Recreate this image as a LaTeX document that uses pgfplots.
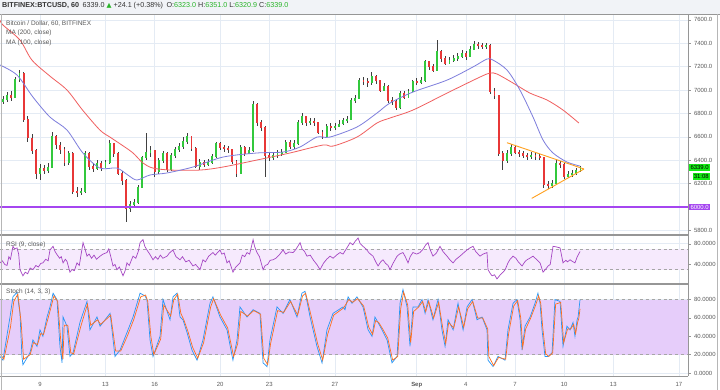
\documentclass[border=0pt]{standalone}
\usepackage{fontspec}
\setmainfont{Liberation Sans}
\newfontfamily\dejavu{DejaVu Sans}
\usepackage{pgfplots}
\pgfplotsset{compat=1.18}
\usepackage{pgfplotstable}
\definecolor{gridc}{RGB}{228,235,244}
\definecolor{candg}{RGB}{50,200,60}
\definecolor{candr}{RGB}{232,55,55}
\definecolor{ma2}{RGB}{240,95,95}
\definecolor{ma1}{RGB}{125,125,220}
\definecolor{lvl}{RGB}{165,70,240}
\definecolor{limeg}{RGB}{20,235,20}
\definecolor{wedge}{RGB}{255,160,30}
\definecolor{rsic}{RGB}{165,70,195}
\definecolor{rsiband}{RGB}{246,234,253}
\definecolor{stband}{RGB}{230,205,250}
\definecolor{stk}{RGB}{40,150,245}
\definecolor{std}{RGB}{255,110,30}
\definecolor{txt}{RGB}{90,90,90}
\definecolor{hdr}{RGB}{241,243,247}
\definecolor{sep}{RGB}{150,150,150}
\definecolor{hgreen}{RGB}{40,180,40}
\pgfplotsset{
 panel/.style={scale only axis, width=688bp, xmin=6.56, xmax=48.56,
   axis x line*=bottom, axis y line*=right, axis line style={draw=sep},
   xtick={9,13,16,20,23,27,32,35,38,41,44,48}, xticklabels={},
   grid=major, major grid style={draw=gridc, line width=0.5bp},
   major tick length=2.5bp, tick align=outside,
   tick style={draw=sep, line width=0.4bp},
   x tick style={draw=none},
   yticklabel style={font=\fontsize{6}{7}\selectfont, text=txt},
   /pgf/number format/assume math mode=true,
   /pgf/number format/fixed,
   /pgf/number format/fixed zerofill,
   /pgf/number format/1000 sep={}},
 candle/.style={only marks, mark=text, text mark={}, forget plot,
   error bars/.cd, y dir=both, y explicit, error mark=none},
}
\begin{document}
\pgfplotstableread{
t o h l c
6.75 6900 6950 6880 6920
7.00 6920 6980 6900 6950
7.25 6950 6990 6910 6940
7.50 6940 7110 6930 7090
7.75 7090 7170 7070 7140
8.00 7140 7150 6730 6750
8.25 6750 6780 6560 6590
8.50 6590 6620 6450 6480
8.75 6480 6500 6240 6290
9.00 6290 6370 6230 6330
9.25 6330 6360 6280 6310
9.50 6310 6380 6290 6340
9.75 6340 6640 6330 6600
10.00 6600 6620 6500 6530
10.25 6530 6560 6450 6490
10.50 6490 6510 6350 6380
10.75 6380 6480 6360 6460
11.00 6460 6470 6110 6130
11.25 6130 6170 6090 6120
11.50 6120 6160 6100 6130
11.75 6130 6480 6120 6460
12.00 6460 6470 6320 6350
12.25 6350 6380 6300 6330
12.50 6330 6400 6320 6370
12.75 6370 6390 6310 6340
13.00 6340 6400 6330 6380
13.25 6380 6570 6370 6540
13.50 6540 6550 6430 6460
13.75 6460 6470 6270 6290
14.00 6290 6310 6190 6230
14.25 6230 6240 5872 5990
14.50 5990 6050 5960 6020
14.75 6020 6070 6000 6040
15.00 6040 6190 6030 6170
15.25 6170 6440 6160 6420
15.50 6420 6632 6400 6470
15.75 6470 6520 6430 6480
16.00 6480 6490 6260 6300
16.25 6300 6420 6280 6400
16.50 6400 6480 6380 6460
16.75 6460 6470 6300 6320
17.00 6320 6460 6310 6440
17.25 6440 6510 6420 6490
17.50 6490 6550 6470 6520
17.75 6520 6600 6500 6560
18.00 6560 6630 6540 6600
18.25 6600 6610 6480 6500
18.50 6500 6510 6330 6350
18.75 6350 6410 6320 6380
19.00 6380 6400 6340 6360
19.25 6360 6410 6350 6380
19.50 6380 6450 6370 6430
19.75 6430 6560 6420 6540
20.00 6540 6560 6490 6510
20.25 6510 6530 6470 6500
20.50 6500 6520 6460 6490
20.75 6490 6500 6370 6390
21.00 6390 6400 6260 6290
21.25 6290 6530 6280 6510
21.50 6510 6520 6440 6460
21.75 6460 6510 6450 6480
22.00 6480 6910 6470 6880
22.25 6880 6890 6690 6720
22.50 6720 6740 6650 6680
22.75 6680 6690 6256 6440
23.00 6440 6470 6390 6420
23.25 6420 6470 6400 6440
23.50 6440 6490 6420 6460
23.75 6460 6500 6440 6470
24.00 6470 6570 6460 6550
24.25 6550 6570 6500 6520
24.50 6520 6570 6500 6540
24.75 6540 6740 6530 6720
25.00 6720 6800 6700 6770
25.25 6770 6780 6690 6720
25.50 6720 6760 6700 6730
25.75 6730 6760 6690 6720
26.00 6720 6730 6620 6640
26.25 6640 6660 6580 6600
26.50 6600 6710 6590 6690
26.75 6690 6720 6650 6680
27.00 6680 6720 6660 6690
27.25 6690 6740 6680 6710
27.50 6710 6760 6700 6740
27.75 6740 6780 6720 6750
28.00 6750 6930 6740 6910
28.25 6910 6960 6890 6930
28.50 6930 7100 6920 7080
28.75 7080 7110 7040 7070
29.00 7070 7100 7030 7060
29.25 7060 7150 7040 7120
29.50 7120 7130 7050 7080
29.75 7080 7090 6980 7000
30.00 7000 7060 6990 7030
30.25 7030 7040 6890 6910
30.50 6910 6940 6870 6900
30.75 6900 6920 6830 6850
31.00 6850 6990 6840 6970
31.25 6970 6990 6920 6940
31.50 6940 7010 6930 6990
31.75 6990 7090 6980 7070
32.00 7070 7100 7040 7060
32.25 7060 7110 7050 7080
32.50 7080 7260 7070 7240
32.75 7240 7250 7170 7200
33.00 7200 7220 7150 7170
33.25 7170 7427 7160 7330
33.50 7330 7340 7240 7270
33.75 7270 7290 7210 7230
34.00 7230 7280 7220 7250
34.25 7250 7300 7240 7270
34.50 7270 7320 7250 7290
34.75 7290 7340 7270 7310
35.00 7310 7330 7260 7290
35.25 7290 7380 7280 7350
35.50 7350 7420 7340 7390
35.75 7390 7410 7350 7380
36.00 7380 7400 7350 7370
36.25 7370 7400 7350 7380
36.50 7380 7390 6970 6990
36.75 6990 7020 6920 6950
37.00 6950 6960 6440 6460
37.25 6460 6480 6315 6400
37.50 6400 6490 6380 6460
37.75 6460 6540 6440 6510
38.00 6510 6530 6450 6470
38.25 6470 6490 6430 6460
38.50 6460 6480 6420 6440
38.75 6440 6460 6400 6430
39.00 6430 6470 6410 6440
39.25 6440 6460 6400 6430
39.50 6430 6450 6400 6420
39.75 6420 6430 6160 6190
40.00 6190 6220 6150 6180
40.25 6180 6230 6160 6200
40.50 6200 6400 6190 6370
40.75 6370 6390 6330 6360
41.00 6360 6380 6240 6260
41.25 6260 6310 6250 6280
41.50 6280 6320 6260 6290
41.75 6290 6330 6270 6310
42.00 6310 6351 6300 6339
}\price
\begin{tikzpicture}
\useasboundingbox (0bp,0bp) rectangle (720bp,390bp);
\fill[white] (0bp,0bp) rectangle (720bp,390bp);
\fill[hdr] (0bp,376bp) rectangle (720bp,390bp);
% ---------------- main price panel
\begin{axis}[panel, at={(0bp,155bp)}, anchor=south west, height=221bp,
  ymin=5761, ymax=7650, ytick={5800,6200,6400,...,7600},
  /pgf/number format/precision=1]
\addplot[candle, error bar style={draw=black!75, line width=0.5bp}]
  table[x=t, y expr={0.5*(\thisrow{h}+\thisrow{l})},
        y error expr={0.5*(\thisrow{h}-\thisrow{l})}] {\price};
\addplot[restrict expr to domain={\thisrow{c}-\thisrow{o}}{0:100000},
  candle, error bar style={draw=candg, line width=1.9bp}]
  table[x=t, y expr={0.5*(\thisrow{o}+\thisrow{c})},
        y error expr={0.5*abs(\thisrow{c}-\thisrow{o})+4}] {\price};
\addplot[restrict expr to domain={\thisrow{o}-\thisrow{c}}{0.001:100000},
  candle, error bar style={draw=candr, line width=1.9bp}]
  table[x=t, y expr={0.5*(\thisrow{o}+\thisrow{c})},
        y error expr={0.5*abs(\thisrow{c}-\thisrow{o})+4}] {\price};
% MA 200
\addplot[ma2, line width=0.8bp, smooth, tension=0.5] coordinates {
(6.56,7598) (6.74,7556) (7.78,7427) (8.51,7256) (9.6,7120) (10.65,7000)
(11.6,6829) (12.66,6658) (13.27,6598) (14.0,6530) (14.68,6462) (15.29,6376)
(15.90,6333) (17.0,6316) (18.77,6316) (20.17,6342) (22.25,6402) (24.26,6462)
(26.28,6530) (26.89,6521) (28.35,6598) (29.57,6718) (30.37,6761) (31.77,6829)
(33.85,6974) (35.86,7111) (36.47,7145) (36.9,7137) (37.88,7060) (38.91,6974)
(39.95,6915) (40.93,6829) (41.9,6718)};
% MA 100
\addplot[ma1, line width=0.8bp, smooth, tension=0.5] coordinates {
(6.56,7214) (7.6,7128) (8.57,6940) (9.61,6769) (10.65,6658) (11.62,6462)
(12.66,6333) (13.70,6333) (14.4,6270) (14.92,6231) (15.72,6274) (16.75,6291)
(18.34,6342) (20.17,6427) (22.25,6462) (23.84,6470) (24.87,6513) (25.91,6598)
(26.70,6598) (28.35,6684) (29.57,6803) (30.37,6889) (31.77,6983) (33.85,7085)
(35.43,7197) (36.29,7265) (36.66,7256) (37.51,7171) (38.30,7000) (39.10,6769)
(39.71,6573) (40.32,6462) (41.17,6385) (41.97,6350)};
% support line
\addplot[lvl, line width=1.5bp] coordinates {(6.56,6000) (48.56,6000)};
% triangle
\addplot[wedge, line width=0.9bp] coordinates {(37.51,6550) (42.21,6325)};
\addplot[wedge, line width=0.9bp] coordinates {(39.02,6074) (42.21,6325)};
\coordinate (p6000) at (axis cs:48.56,6000);
\coordinate (plast) at (axis cs:48.56,6339);
\end{axis}
% ---------------- RSI panel
\begin{axis}[panel, at={(0bp,106bp)}, anchor=south west, height=49bp,
  ymin=2.2, ymax=96.9, ytick={40,80},
  /pgf/number format/precision=4]
\fill[rsiband] (axis cs:6.56,30) rectangle (axis cs:48.56,70);
\draw[gray!70, dashed, line width=0.5bp] (axis cs:6.56,30) -- (axis cs:48.56,30);
\draw[gray!70, dashed, line width=0.5bp] (axis cs:6.56,70) -- (axis cs:48.56,70);
\addplot[rsic, line width=0.7bp] coordinates {
(6.56,43) (6.7,47) (6.85,40) (6.99,38) (7.1,55) (7.2,50) (7.35,75) (7.45,70)
(7.6,72) (7.7,60) (7.78,30) (7.96,18) (8.1,25) (8.25,22) (8.4,33) (8.57,30)
(8.75,38) (8.9,35) (9.05,42) (9.18,43) (9.35,50) (9.5,47) (9.61,68) (9.8,75)
(9.92,65) (10.04,59) (10.2,52) (10.3,55) (10.41,43) (10.55,50) (10.65,46)
(10.83,25) (10.95,30) (11.1,28) (11.26,43) (11.4,38) (11.63,82) (11.75,70)
(11.87,56) (12.0,60) (12.15,52) (12.3,58) (12.45,50) (12.67,56) (12.85,60)
(13.09,63) (13.2,70) (13.3,58) (13.46,37) (13.58,40) (13.70,30) (13.85,35)
(14.07,18) (14.2,28) (14.31,43) (14.45,38) (14.68,56) (14.85,52) (15.0,65)
(15.11,82) (15.29,88) (15.4,75) (15.53,68) (15.7,60) (15.9,49) (16.05,55)
(16.2,50) (16.35,58) (16.5,52) (16.76,56) (16.9,62) (17.12,68) (17.3,55)
(17.55,49) (17.7,55) (17.9,45) (18.1,48) (18.34,37) (18.5,40) (18.77,30)
(18.95,49) (19.1,45) (19.3,56) (19.56,63) (19.7,58) (19.99,68) (20.1,60)
(20.25,62) (20.42,43) (20.55,47) (20.78,25) (20.95,35) (21.21,43) (21.35,58)
(21.5,55) (21.64,63) (21.8,60) (22.01,88) (22.1,75) (22.25,63) (22.4,55)
(22.62,30) (22.75,38) (22.9,40) (23.05,48) (23.23,49) (23.4,52) (23.6,58)
(23.84,68) (24.0,60) (24.2,64) (24.45,63) (24.6,68) (24.88,82) (25.0,70)
(25.15,65) (25.3,56) (25.5,58) (25.7,48) (25.9,40) (26.1,30) (26.3,42)
(26.5,50) (26.71,56) (26.9,52) (27.1,58) (27.32,63) (27.5,60) (27.7,70)
(27.93,82) (28.1,78) (28.25,85) (28.42,91) (28.55,80) (28.72,75) (28.9,70)
(29.1,62) (29.33,56) (29.5,45) (29.64,37) (29.8,45) (29.94,49) (30.1,42)
(30.25,38) (30.37,30) (30.55,42) (30.8,56) (30.95,60) (31.16,63) (31.3,55)
(31.47,43) (31.6,55) (31.77,63) (32.0,60) (32.2,63) (32.4,70) (32.55,78)
(32.69,82) (32.8,70) (32.99,56) (33.2,62) (33.42,75) (33.6,65) (33.85,56)
(34.0,50) (34.22,43) (34.4,50) (34.64,56) (34.85,62) (35.07,68) (35.25,72)
(35.44,75) (35.6,65) (35.86,56) (36.05,60) (36.29,63) (36.35,30) (36.5,22)
(36.6,18) (36.75,20) (36.9,12) (37.1,20) (37.27,25) (37.4,30) (37.57,43)
(37.7,50) (37.88,56) (38.05,52) (38.2,45) (38.43,37) (38.6,45) (38.73,49)
(38.9,52) (39.10,56) (39.3,50) (39.53,43) (39.71,25) (39.85,30) (40.02,37)
(40.15,40) (40.32,75) (40.5,74) (40.75,72) (40.93,43) (41.1,48) (41.2,45)
(41.36,49) (41.5,46) (41.66,43) (41.8,55) (41.97,65)};
\end{axis}
% ---------------- Stochastic panel
\begin{axis}[panel, at={(0bp,14bp)}, anchor=south west, height=92bp,
  ymin=-3.3, ymax=97, ytick={0,20,...,80},
  /pgf/number format/precision=4,
  xticklabels={9,13,16,20,23,27,\textbf{Sep},4,7,10,13,17},
  xticklabel style={font=\fontsize{6}{7}\selectfont, text=txt}]
\fill[stband] (axis cs:6.56,20) rectangle (axis cs:48.56,80);
\draw[gray!70, dashed, line width=0.5bp] (axis cs:6.56,20) -- (axis cs:48.56,20);
\draw[gray!70, dashed, line width=0.5bp] (axis cs:6.56,80) -- (axis cs:48.56,80);
\addplot[stk, line width=0.7bp] coordinates {
(6.56,18) (6.74,14) (7.17,61) (7.35,83) (7.60,88) (7.78,65) (7.90,18) (7.96,9)
(8.39,22) (8.57,36) (8.82,29) (9.00,47) (9.18,40) (9.43,61) (9.61,72) (9.80,87)
(10.04,80) (10.22,29) (10.35,11) (10.41,61) (10.65,51) (10.83,18) (11.02,22)
(11.44,55) (11.87,78) (12.05,47) (12.48,61) (12.67,51) (13.28,65) (13.58,18)
(13.89,25) (14.31,44) (14.68,61) (15.11,87) (15.41,84) (15.53,80) (15.72,36)
(15.90,18) (16.33,40) (16.51,80) (16.94,58) (17.12,83) (17.37,87) (17.55,61)
(17.73,58) (17.98,44) (18.28,25) (18.59,14) (18.95,36) (19.38,76) (19.56,83)
(19.99,61) (20.42,47) (20.78,14) (21.03,36) (21.21,72) (21.64,61) (22.01,69)
(22.43,65) (22.62,11) (22.86,7) (23.04,36) (23.47,72) (23.84,65) (24.26,80)
(24.69,61) (24.99,87) (25.18,89) (25.49,61) (25.91,29) (26.22,11) (26.52,47)
(26.89,65) (27.50,72) (27.62,69) (27.81,83) (28.05,76) (28.35,83) (28.72,72)
(29.03,47) (29.27,40) (29.45,61) (29.64,55) (29.88,47) (30.19,36) (30.49,11)
(30.80,18) (30.98,76) (31.16,91) (31.41,72) (31.59,29) (31.77,72) (32.08,72)
(32.32,80) (32.51,65) (32.69,80) (32.99,58) (33.30,80) (33.54,47) (33.73,29)
(33.91,58) (34.22,47) (34.52,76) (34.83,47) (35.07,72) (35.38,80) (35.68,58)
(35.99,61) (36.29,47) (36.35,14) (36.66,7) (36.96,18) (37.39,14) (37.57,47)
(37.88,76) (38.12,80) (38.31,58) (38.43,25) (38.61,51) (38.92,61) (39.22,76)
(39.40,87) (39.53,76) (39.65,47) (39.83,18) (40.02,18) (40.26,22) (40.44,80)
(40.75,78) (40.93,29) (41.17,51) (41.36,47) (41.54,55) (41.66,40) (41.79,58)
(41.85,61) (41.97,80)};
\addplot[std, line width=0.7bp] coordinates {
(6.6,20) (6.8,15) (7.2,50) (7.4,78) (7.65,86) (7.85,55) (8.0,15) (8.4,20)
(8.6,33) (8.85,31) (9.05,43) (9.22,42) (9.47,58) (9.65,70) (9.85,84) (10.08,78)
(10.27,35) (10.4,15) (10.48,52) (10.7,52) (10.88,22) (11.06,21) (11.48,50)
(11.9,75) (12.1,52) (12.52,58) (12.7,53) (13.32,63) (13.62,24) (13.93,24)
(14.35,41) (14.72,58) (15.15,83) (15.45,85) (15.58,78) (15.77,40) (15.95,20)
(16.37,37) (16.56,74) (16.98,62) (17.17,80) (17.41,86) (17.6,65) (17.78,58)
(18.02,46) (18.32,28) (18.63,16) (18.99,33) (19.42,72) (19.6,81) (20.03,63)
(20.46,49) (20.82,18) (21.07,32) (21.26,67) (21.68,62) (22.05,68) (22.47,64)
(22.66,16) (22.9,9) (23.08,32) (23.51,68) (23.88,66) (24.3,78) (24.73,63)
(25.03,84) (25.22,87) (25.53,64) (25.95,32) (26.26,14) (26.56,42) (26.93,63)
(27.54,71) (27.85,80) (28.09,77) (28.39,81) (28.76,73) (29.07,50) (29.31,42)
(29.49,57) (29.68,55) (29.92,48) (30.23,38) (30.53,14) (30.84,18) (31.02,70)
(31.2,88) (31.45,74) (31.63,33) (31.81,67) (32.12,72) (32.36,78) (32.55,67)
(32.73,78) (33.03,60) (33.34,77) (33.58,50) (33.77,32) (33.95,55) (34.26,49)
(34.56,72) (34.87,50) (35.11,70) (35.42,78) (35.72,60) (36.03,60) (36.33,48)
(36.4,18) (36.7,8) (37.0,17) (37.43,15) (37.61,43) (37.92,73) (38.16,79)
(38.35,60) (38.47,28) (38.65,48) (38.96,60) (39.26,74) (39.44,84) (39.57,76)
(39.69,50) (39.87,21) (40.06,18) (40.3,22) (40.48,75) (40.79,77) (40.97,33)
(41.21,48) (41.4,48) (41.58,53) (41.7,43) (41.83,56) (41.89,59) (41.97,70)};
\end{axis}
% separators and frame
\draw[sep, line width=1.2bp] (0bp,155bp) -- (688bp,155bp);
\draw[sep, line width=1.2bp] (0bp,106bp) -- (688bp,106bp);
\draw[sep, line width=0.6bp] (0bp,376bp) -- (720bp,376bp);
\draw[sep, line width=0.6bp] (688bp,14bp) -- (688bp,376bp);
\draw[sep!70, line width=0.6bp] (717bp,0bp) -- (717bp,376bp);
\draw[sep!70, line width=0.6bp] (1bp,0bp) -- (1bp,376bp);
% price labels
\node[fill=lvl, text=white, font=\fontsize{6}{7}\selectfont, inner sep=1.3bp, anchor=west] at ([xshift=1bp]p6000) {6000.0};
\node[fill=limeg, text=black, font=\fontsize{6}{7}\selectfont, inner sep=1.3bp, anchor=west] (lp) at ([xshift=1bp]plast) {6339.0};
\node[fill=limeg, text=black, font=\fontsize{6}{7}\selectfont, inner sep=1.3bp, anchor=north east] at ([yshift=-1.5bp]lp.south east) {31:08};
% texts
\node[anchor=west, font=\fontsize{7.2}{8}\selectfont, text=black!80, inner sep=0] at (2bp,384bp)
 {\textbf{BITFINEX:BTCUSD, 60}\enspace 6339.0 \textcolor{hgreen}{{\dejavu\fontsize{6.5}{7}\selectfont ▲}} +24.1 (+0.38\%)\enspace O:\textcolor{hgreen}{6323.0} H:\textcolor{hgreen}{6351.0} L:\textcolor{hgreen}{6320.9} C:\textcolor{hgreen}{6339.0}};
\node[anchor=west, font=\fontsize{6.5}{7.5}\selectfont, text=txt, inner sep=0] at (6bp,366bp) {Bitcoin / Dollar, 60, BITFINEX};
\node[anchor=west, font=\fontsize{6.5}{7.5}\selectfont, text=txt, inner sep=0] at (6bp,357bp) {MA (200, close)};
\node[anchor=west, font=\fontsize{6.5}{7.5}\selectfont, text=txt, inner sep=0] at (6bp,347bp) {MA (100, close)};
\node[anchor=west, font=\fontsize{6.5}{7.5}\selectfont, text=txt, inner sep=0] at (6bp,145bp) {RSI (9, close)};
\node[anchor=west, font=\fontsize{6.5}{7.5}\selectfont, text=txt, inner sep=0] at (6bp,98bp) {Stoch (14, 3, 3)};
\end{tikzpicture}
\end{document}
